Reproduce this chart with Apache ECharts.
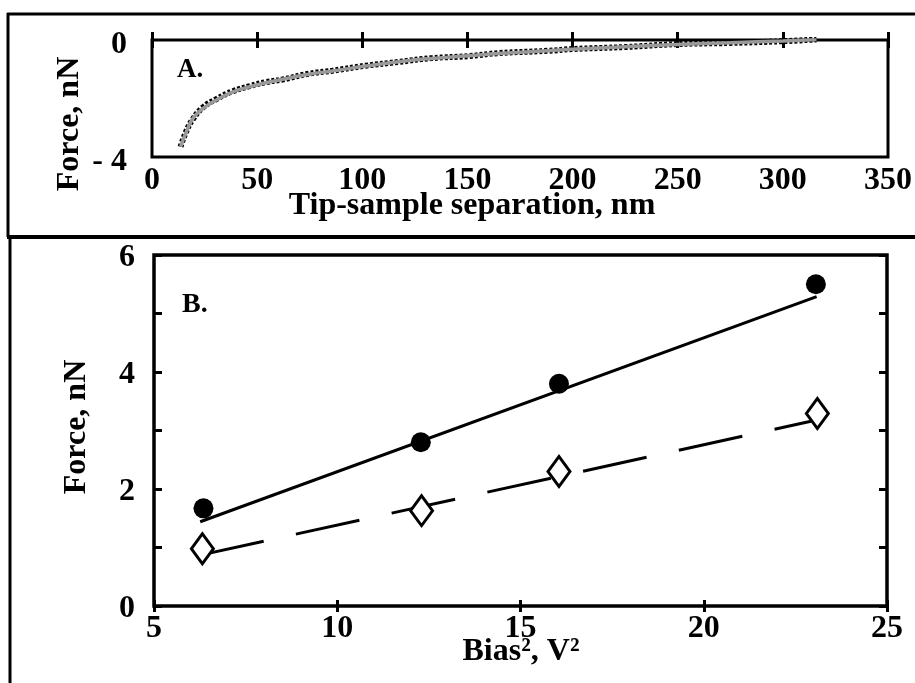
<!DOCTYPE html>
<html>
<head>
<meta charset="utf-8">
<script src="https://cdn.jsdelivr.net/npm/echarts@6/dist/echarts.min.js"></script>
<style>
html,body{margin:0;padding:0;background:#fff;}
#chart{width:915px;height:683px;}
</style>
</head>
<body>
<div id="chart"></div>
<script>
// ---- Panel A: force vs tip-sample separation ----
var sepTicks = [0, 50, 100, 150, 200, 250, 300, 350];
var forceTicksA = [-4, 0];
var sepData   = [13.6, 16.4, 19.5, 24.3, 30.6, 38.5, 46.4, 54.2, 62.1, 74.7, 85.8, 101.6, 117.3, 133.1, 150.8, 164.6, 188.3, 200, 225, 250, 275, 300, 316];
var forceData = [-3.65, -3.10, -2.70, -2.30, -2.02, -1.75, -1.58, -1.44, -1.35, -1.15, -1.05, -0.88, -0.75, -0.62, -0.55, -0.45, -0.37, -0.31, -0.24, -0.14, -0.10, -0.04, 0.02];
var sepFit    = [13.6, 16.4, 19.5, 24.3, 30.6, 38.5, 46.4, 54.2, 62.1, 74.7, 85.8, 101.6, 117.3, 133.1, 150.8, 164.6, 188.3, 200, 225, 250, 275, 300, 316];
var forceFit  = [-3.65, -3.13, -2.68, -2.34, -2.05, -1.77, -1.60, -1.46, -1.34, -1.17, -1.06, -0.89, -0.74, -0.63, -0.54, -0.46, -0.37, -0.32, -0.23, -0.15, -0.09, -0.03, 0.02];

// ---- Panel B: force vs bias^2 ----
var biasTicks = [5, 10, 15, 20, 25];
var forceTicksB = [0, 2, 4, 6];
var biasSq      = [6.35, 12.28, 16.05, 23.06];
var forceCircle = [1.67, 2.80, 3.80, 5.50];
var biasSqD     = [6.32, 12.30, 16.05, 23.10];
var forceDiam   = [0.98, 1.63, 2.30, 3.29];
var fitSolidX = [6.26, 23.08];
var fitSolidY = [1.44, 5.29];
var fitDashX  = [6.26, 23.08];
var fitDashY  = [0.87, 3.18];

function zip(a, b) { return a.map(function (v, i) { return [v, b[i]]; }); }

var FONT = 'Liberation Serif';
var lbl = { fontFamily: FONT, fontWeight: 'bold', fontSize: 32, color: '#000' };

var chart = echarts.init(document.getElementById('chart'), null, { renderer: 'canvas' });

var option = {
  backgroundColor: '#fff',
  animation: false,
  grid: [
    { left: 152, top: 40, width: 740, height: 117, show: true, borderColor: '#000', borderWidth: 3, backgroundColor: 'transparent' },
    { left: 154, top: 255, width: 733, height: 351, show: true, borderColor: '#000', borderWidth: 3.5, backgroundColor: 'transparent' }
  ],
  xAxis: [
    { gridIndex: 0, type: 'value', min: 0, max: 350, interval: 50, position: 'bottom',
      axisLine: { show: false }, splitLine: { show: false },
      axisTick: { show: true, inside: true, length: 8, lineStyle: { color: '#000', width: 3 } },
      axisLabel: Object.assign({ margin: 8, formatter: function (v) { return sepTicks.indexOf(v) >= 0 ? String(v) : ''; } }, lbl) },
    { gridIndex: 0, type: 'value', min: 0, max: 350, interval: 50, position: 'top',
      axisLine: { show: false }, splitLine: { show: false },
      axisTick: { show: true, inside: true, length: 8, lineStyle: { color: '#000', width: 3 } },
      axisLabel: { show: false } },
    { gridIndex: 1, type: 'value', min: 5, max: 25, interval: 5, position: 'bottom',
      axisLine: { show: false }, splitLine: { show: false },
      axisTick: { show: true, inside: true, length: 6, lineStyle: { color: '#000', width: 3 } },
      axisLabel: Object.assign({ margin: 7, formatter: function (v) { return biasTicks.indexOf(v) >= 0 ? String(v) : ''; } }, lbl) },
    { gridIndex: 1, type: 'value', min: 5, max: 25, interval: 5, position: 'top',
      axisLine: { show: false }, splitLine: { show: false },
      axisTick: { show: true, inside: true, length: 6, lineStyle: { color: '#000', width: 3 } },
      axisLabel: { show: false } }
  ],
  yAxis: [
    { gridIndex: 0, type: 'value', min: -4, max: 0, interval: 4,
      axisLine: { show: false }, splitLine: { show: false }, axisTick: { show: false },
      axisLabel: Object.assign({ margin: 25, formatter: function (v) { return v < 0 ? '{s|- ' + Math.abs(v) + '}' : '{s|' + v + '}'; },
        rich: { s: { fontFamily: FONT, fontWeight: 'bold', fontSize: 32, color: '#000', padding: [10, 0, 0, 0] } } }, lbl) },
    { gridIndex: 1, type: 'value', min: 0, max: 6, interval: 1, position: 'left',
      axisLine: { show: false }, splitLine: { show: false },
      axisTick: { show: true, inside: true, length: 8, lineStyle: { color: '#000', width: 3 } },
      axisLabel: Object.assign({ margin: 19, formatter: function (v) { return forceTicksB.indexOf(v) >= 0 ? '{s|' + v + '}' : ''; },
        rich: { s: { fontFamily: FONT, fontWeight: 'bold', fontSize: 32, color: '#000', padding: [6, 0, 0, 0] } } }, lbl) },
    { gridIndex: 1, type: 'value', min: 0, max: 6, interval: 1, position: 'right',
      axisLine: { show: false }, splitLine: { show: false },
      axisTick: { show: true, inside: true, length: 8, lineStyle: { color: '#000', width: 3 } },
      axisLabel: { show: false } }
  ],
  series: [
    { type: 'line', xAxisIndex: 0, yAxisIndex: 0, data: zip(sepData, forceData), smooth: true, showSymbol: false,
      lineStyle: { color: '#000', width: 6, type: [3, 2], opacity: 1 }, z: 2 },
    { type: 'line', xAxisIndex: 0, yAxisIndex: 0, data: zip(sepFit, forceFit), smooth: true, showSymbol: false,
      lineStyle: { color: '#999', width: 3.5, opacity: 1 }, z: 3 },
    { type: 'line', xAxisIndex: 2, yAxisIndex: 1, data: zip(fitSolidX, fitSolidY), showSymbol: false,
      lineStyle: { color: '#000', width: 3, opacity: 1 }, z: 2 },
    { type: 'line', xAxisIndex: 2, yAxisIndex: 1, data: zip(fitDashX, fitDashY), showSymbol: false,
      lineStyle: { color: '#000', width: 3, type: [65, 33], opacity: 1 }, z: 2 },
    { type: 'scatter', xAxisIndex: 2, yAxisIndex: 1, data: zip(biasSq, forceCircle), symbol: 'circle', symbolSize: 20,
      itemStyle: { color: '#000', opacity: 1 }, z: 4 },
    { type: 'scatter', xAxisIndex: 2, yAxisIndex: 1, data: zip(biasSqD, forceDiam), symbol: 'diamond', symbolSize: [22, 30],
      itemStyle: { color: '#fff', borderColor: '#000', borderWidth: 3, opacity: 1 }, z: 4 }
  ],
  graphic: [
    { type: 'line', shape: { x1: 7, y1: 14, x2: 915, y2: 14 }, style: { stroke: '#000', lineWidth: 3 } },
    { type: 'line', shape: { x1: 8, y1: 13, x2: 8, y2: 237 }, style: { stroke: '#000', lineWidth: 3 } },
    { type: 'line', shape: { x1: 7, y1: 237, x2: 915, y2: 237 }, style: { stroke: '#000', lineWidth: 4 } },
    { type: 'line', shape: { x1: 10, y1: 237, x2: 10, y2: 683 }, style: { stroke: '#000', lineWidth: 3 } },
    { type: 'text', x: 177, y: 70, style: { text: 'A.', font: 'bold 27px "Liberation Serif"', fill: '#000', textVerticalAlign: 'middle' } },
    { type: 'text', x: 182, y: 305, style: { text: 'B.', font: 'bold 28px "Liberation Serif"', fill: '#000', textVerticalAlign: 'middle' } },
    { type: 'text', x: 472, y: 206, style: { text: 'Tip-sample separation, nm', font: 'bold 32px "Liberation Serif"', fill: '#000', textAlign: 'center', textVerticalAlign: 'middle' } },
    { type: 'text', x: 521, y: 652, style: { text: 'Bias\u00B2, V\u00B2', font: 'bold 32px "Liberation Serif"', fill: '#000', textAlign: 'center', textVerticalAlign: 'middle' } },
    { type: 'text', x: 70, y: 124, rotation: Math.PI / 2, style: { text: 'Force, nN', font: 'bold 32px "Liberation Serif"', fill: '#000', textAlign: 'center', textVerticalAlign: 'middle' } },
    { type: 'text', x: 77, y: 427, rotation: Math.PI / 2, style: { text: 'Force, nN', font: 'bold 32px "Liberation Serif"', fill: '#000', textAlign: 'center', textVerticalAlign: 'middle' } }
  ]
};
chart.setOption(option);
</script>
</body>
</html>
